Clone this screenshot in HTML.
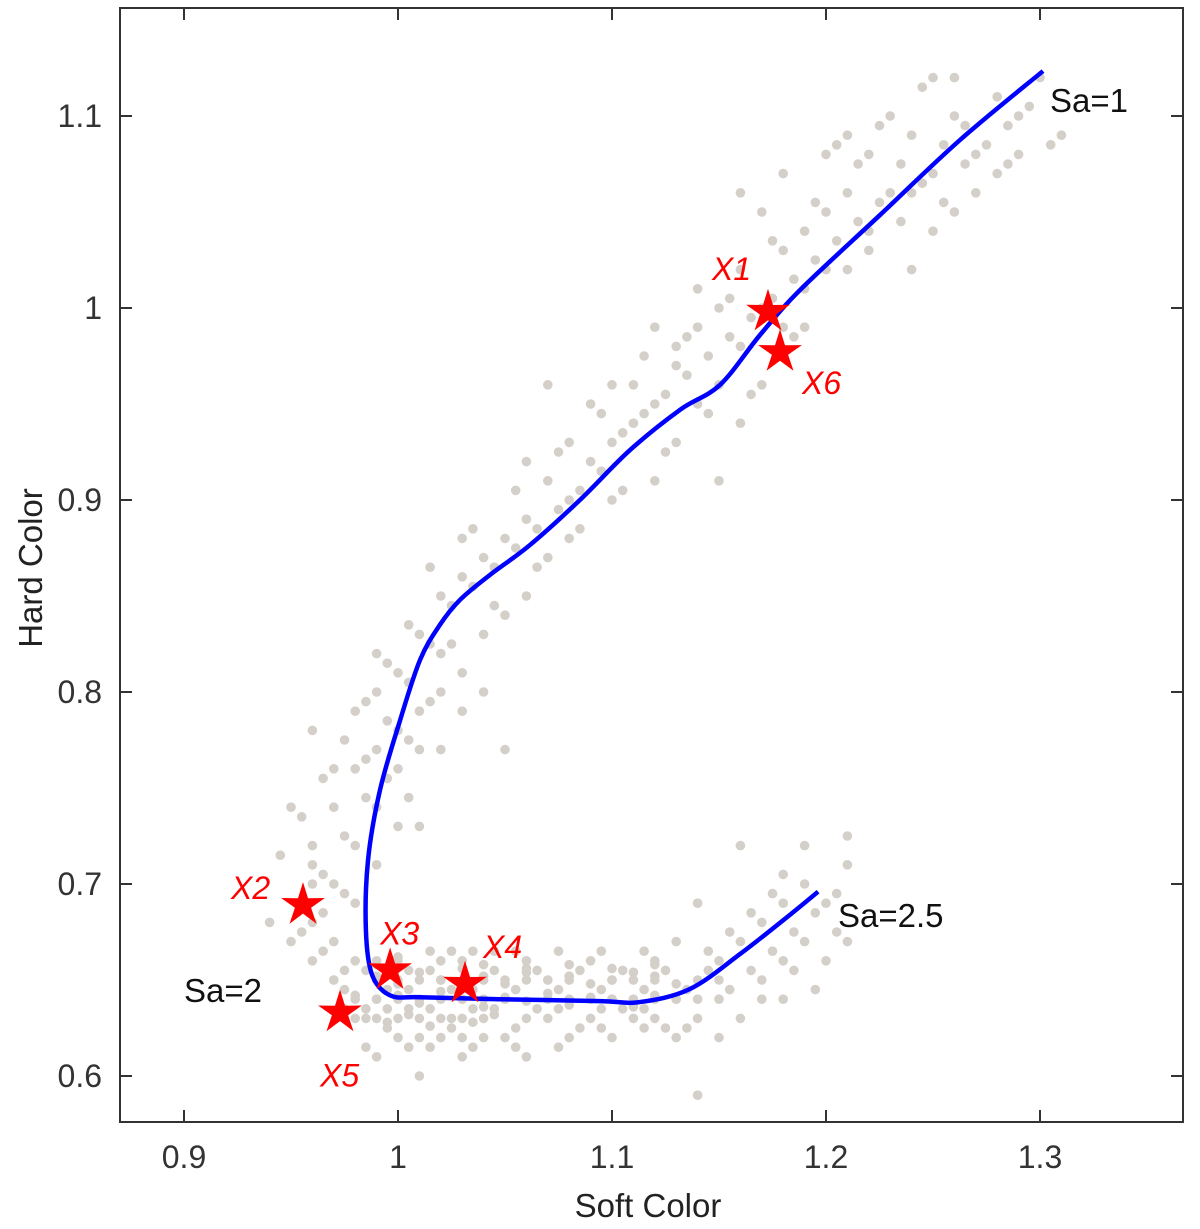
<!DOCTYPE html>
<html><head><meta charset="utf-8"><style>
html,body{margin:0;padding:0;background:#fff;}
svg{display:block;font-family:"Liberation Sans",Arial,sans-serif;}
</style></head><body>
<svg id="chart" width="1200" height="1229" viewBox="0 0 1200 1229">
<g id="points"></g>
<path id="curve" fill="none" stroke="#0000ff" stroke-width="4.5"/>
<g id="stars"></g>
<g id="axes"></g>
<text x="1050" y="112" font-size="33" fill="#111">Sa=1</text>
<text x="838" y="927" font-size="33" fill="#111">Sa=2.5</text>
<text x="184" y="1002" font-size="33" fill="#111">Sa=2</text>
<text x="648" y="1217" font-size="33" fill="#222" text-anchor="middle">Soft Color</text>
<text transform="translate(42,568) rotate(-90)" font-size="33" fill="#222" text-anchor="middle">Hard Color</text>
</svg>
<script>
const xTicks=[0.9,1.0,1.1,1.2,1.3];
const xTickLabels=["0.9","1","1.1","1.2","1.3"];
const yTicks=[0.6,0.7,0.8,0.9,1.0,1.1];
const yTickLabels=["0.6","0.7","0.8","0.9","1","1.1"];
const scatterX=[1.30,1.29,1.28,1.31,1.27,1.26,1.25,1.24,1.23,1.22,1.28,1.26,1.25,1.24,1.22,1.21,1.20,1.19,1.21,1.20,1.18,1.19,1.17,1.18,1.16,1.15,1.16,1.14,1.15,1.17,1.13,1.12,1.14,1.11,1.13,1.10,1.12,1.09,1.08,1.10,1.07,1.06,1.08,1.05,1.07,1.04,1.06,1.03,1.05,1.02,1.04,1.02,1.01,1.03,1.00,1.01,1.02,0.99,1.00,1.01,0.99,1.00,0.98,0.99,1.00,0.97,0.98,0.99,0.96,0.97,0.98,0.96,1.03,1.05,1.13,1.16,1.20,1.23,1.18,1.25,1.12,1.14,1.11,1.09,1.06,1.03,1.08,1.10,0.99,0.96,0.97,1.02,1.04,1.01,1.19,1.22,1.24,1.27,1.29,1.26,1.21,1.17,1.16,1.15,1.07,0.98,0.96,0.95,
0.96,0.97,0.98,0.99,1.00,1.01,0.98,0.99,1.00,1.01,1.02,1.03,1.04,1.05,1.06,1.07,1.08,1.09,1.10,1.11,1.12,1.13,1.14,1.15,1.16,1.17,1.18,1.19,1.20,1.21,1.17,1.15,1.18,1.16,1.14,1.13,1.12,1.19,1.20,1.21,1.18,1.02,1.03,1.00,0.99,1.01,1.04,1.05,1.06,1.08,1.10,1.11,1.13,1.09,1.07,1.04,0.97,0.96,0.95,0.94,0.99,1.00,1.01,1.02,1.03,1.05,1.06,1.08,1.10,1.12,1.14,1.15,1.16,1.17,1.14,0.98,0.995,1.005,1.015,1.025,1.035,1.045,1.055,1.065,1.075,1.085,1.095,1.105,1.115,1.125,0.985,0.975,1.19,1.21,1.18,
0.99,1.00,1.01,1.02,1.03,1.04,1.05,1.06,1.07,1.08,1.09,1.10,1.11,1.12,0.99,1.00,1.01,1.02,1.03,1.04,1.05,1.06,1.07,1.08,1.09,1.10,1.11,1.12,1.13,0.985,0.995,1.005,1.015,1.025,1.035,1.045,0.97,0.98,0.99,1.00,1.02,1.04,1.06,1.08,1.10,1.12];
const scatterY=[1.12,1.10,1.11,1.09,1.08,1.10,1.07,1.09,1.06,1.08,1.07,1.05,1.04,1.06,1.04,1.06,1.05,1.04,1.02,1.02,1.03,1.01,1.00,0.99,1.02,1.00,0.98,0.99,0.96,0.96,0.97,0.95,0.95,0.94,0.93,0.93,0.91,0.92,0.90,0.90,0.91,0.89,0.88,0.88,0.87,0.87,0.85,0.86,0.84,0.85,0.83,0.82,0.83,0.81,0.81,0.79,0.80,0.80,0.78,0.77,0.77,0.76,0.76,0.74,0.73,0.74,0.72,0.71,0.72,0.70,0.69,0.70,0.79,0.77,0.98,1.06,1.08,1.10,1.07,1.12,0.99,1.01,0.96,0.95,0.92,0.88,0.93,0.96,0.82,0.78,0.76,0.77,0.80,0.73,0.99,1.03,1.02,1.06,1.08,1.12,1.09,1.05,0.94,0.91,0.96,0.79,0.71,0.74,
0.68,0.67,0.66,0.65,0.64,0.63,0.64,0.63,0.66,0.65,0.64,0.66,0.65,0.64,0.63,0.65,0.64,0.63,0.64,0.65,0.63,0.64,0.65,0.66,0.67,0.68,0.69,0.70,0.69,0.71,0.65,0.64,0.66,0.72,0.69,0.67,0.66,0.67,0.66,0.67,0.64,0.62,0.61,0.62,0.61,0.60,0.62,0.62,0.61,0.62,0.62,0.63,0.62,0.66,0.63,0.64,0.65,0.66,0.67,0.68,0.66,0.65,0.64,0.65,0.63,0.65,0.66,0.65,0.65,0.64,0.63,0.62,0.63,0.64,0.59,0.63,0.645,0.635,0.655,0.645,0.635,0.655,0.645,0.635,0.645,0.655,0.645,0.635,0.645,0.655,0.655,0.645,0.72,0.725,0.705,
0.640,0.642,0.638,0.644,0.640,0.636,0.641,0.639,0.643,0.637,0.641,0.640,0.636,0.642,0.652,0.648,0.654,0.650,0.656,0.652,0.648,0.654,0.650,0.652,0.648,0.650,0.654,0.652,0.648,0.630,0.628,0.632,0.626,0.630,0.628,0.632,0.650,0.642,0.658,0.662,0.660,0.658,0.656,0.658,0.656,0.658];
const scatterX2=[1.295,1.285,1.275,1.265,1.255,1.245,1.235,1.225,1.215,1.205,1.195,1.185,1.175,1.165,1.155,1.145,1.135,1.125,1.115,1.105,1.095,1.085,1.075,1.065,1.055,1.045,1.035,1.025,1.015,1.005,0.995,0.985,0.985,0.975,0.965,1.255,1.235,1.215,1.195,1.175,1.155,1.135,1.115,1.095,1.075,1.055,1.035,1.015,1.005,0.995,0.985,0.975,0.965,0.955,0.945,1.205,1.225,1.245,1.265,1.285,1.305,1.185,1.165,1.145,1.125,1.105,1.085,1.065,1.045,1.025,1.015,1.005,1.005,0.995,0.975,0.965,
0.985,0.995,1.005,1.015,1.025,1.035,1.045,1.055,1.065,1.075,1.085,1.095,1.105,1.115,1.125,1.135,1.145,1.155,1.165,1.175,1.185,1.195,1.205,1.175,1.165,1.155,1.145,1.185,1.195,1.205,0.975,0.965,0.955,0.975,0.985,1.005,1.015,1.035,1.055,1.075,1.095,1.115,1.135,1.015,1.025,1.035,1.045,1.055,1.075,1.095,1.115,1.005,0.995,1.020,1.030,1.040,1.050,1.060,1.070,1.080,1.090,1.100,1.110,1.120,1.130,1.140,1.150,0.990,1.000,1.010,1.020,1.030,1.040];
const scatterY2=[1.105,1.095,1.085,1.075,1.085,1.065,1.075,1.055,1.045,1.035,1.025,1.015,1.005,0.995,0.985,0.975,0.965,0.955,0.945,0.935,0.915,0.905,0.895,0.885,0.875,0.865,0.855,0.845,0.825,0.805,0.785,0.765,0.745,0.725,0.705,1.055,1.045,1.075,1.055,1.035,1.005,0.985,0.975,0.945,0.925,0.905,0.885,0.865,0.835,0.815,0.795,0.775,0.755,0.735,0.715,1.085,1.095,1.115,1.095,1.075,1.085,0.985,0.955,0.945,0.925,0.905,0.885,0.865,0.845,0.825,0.795,0.775,0.745,0.755,0.695,0.685,
0.635,0.625,0.645,0.635,0.625,0.645,0.635,0.625,0.655,0.635,0.625,0.635,0.655,0.635,0.625,0.645,0.655,0.645,0.655,0.665,0.675,0.685,0.695,0.695,0.685,0.675,0.665,0.655,0.645,0.675,0.655,0.665,0.675,0.635,0.615,0.615,0.615,0.615,0.615,0.615,0.625,0.625,0.625,0.665,0.665,0.665,0.665,0.665,0.665,0.665,0.665,0.655,0.635,0.650,0.640,0.650,0.640,0.650,0.640,0.650,0.640,0.650,0.640,0.650,0.640,0.640,0.650,0.640,0.630,0.620,0.630,0.620,0.630];
const curveX=[1.3014,1.2626,1.2252,1.1879,1.1692,1.1505,1.1318,1.1084,1.085,1.0617,1.043,1.029,1.0196,1.0103,1.0009,0.9916,0.986,0.985,0.9879,0.9963,1.0103,1.0477,1.0944,1.113,1.1364,1.1598,1.1832,1.1963];
const curveY=[1.1234,1.0875,1.0484,1.0094,0.986,0.960,0.947,0.926,0.900,0.8766,0.861,0.848,0.835,0.8167,0.785,0.749,0.7125,0.676,0.6526,0.642,0.641,0.640,0.639,0.6385,0.6453,0.6635,0.684,0.696];
const starNames=["X1","X6","X2","X3","X4","X5"];
const starX=[1.1729,1.1785,0.9556,0.9963,1.0313,0.9729];
const starY=[0.998,0.977,0.689,0.655,0.648,0.633];

const NS="http://www.w3.org/2000/svg";
const L=120,R=1183,T=8,B=1122;
function sx(v){return 184+(v-0.9)*2140;}
function sy(v){return 116-(v-1.1)*1920;}
function mk(t,a,p){const e=document.createElementNS(NS,t);for(const k in a)e.setAttribute(k,a[k]);p.appendChild(e);return e;}

const pg=document.getElementById('points');
function drawPts(xs,ys){
  for(let i=0;i<xs.length;i++){
    const c=mk('circle',{cx:sx(xs[i]),cy:sy(ys[i]),r:4.8,fill:'#d4d0c9'},pg);
    
    
  }
}
drawPts(scatterX,scatterY);
drawPts(scatterX2,scatterY2);

const pts=curveX.map((x,i)=>[sx(x),sy(curveY[i])]);
let d='M'+pts[0][0]+','+pts[0][1];
for(let i=0;i<pts.length-1;i++){
  const p0=pts[Math.max(0,i-1)],p1=pts[i],p2=pts[i+1],p3=pts[Math.min(pts.length-1,i+2)];
  const c1=[p1[0]+(p2[0]-p0[0])/6,p1[1]+(p2[1]-p0[1])/6];
  const c2=[p2[0]-(p3[0]-p1[0])/6,p2[1]-(p3[1]-p1[1])/6];
  d+=' C'+c1+' '+c2+' '+p2;
}
document.getElementById('curve').setAttribute('d',d);

const sg=document.getElementById('stars');
const labelOff=[[-56,-32],[22,42],[-72,-6],[-10,-26],[18,-26],[-20,74]];
for(let i=0;i<starX.length;i++){
  const cx=sx(starX[i]),cy=sy(starY[i]);let s='';
  for(let k=0;k<10;k++){const r=k%2?8.5:23;const a=-Math.PI/2+k*Math.PI/5;s+=(cx+r*Math.cos(a)).toFixed(1)+','+(cy+r*Math.sin(a)).toFixed(1)+' ';}
  const st=mk('polygon',{points:s,fill:'#ff0000'},sg);
  
  
  const tx=mk('text',{x:cx+labelOff[i][0],y:cy+labelOff[i][1],'font-size':32,'font-style':'italic',fill:'#ff0000'},sg);
  tx.textContent=starNames[i];
  
  
}

const ag=document.getElementById('axes');
const box=mk('rect',{x:L,y:T,width:R-L,height:B-T,fill:'none',stroke:'#333',"stroke-width":2},ag);


xTicks.forEach((v,i)=>{
  const x=sx(v);
  mk('line',{x1:x,x2:x,y1:B,y2:B-12,stroke:'#333','stroke-width':2},ag);
  mk('line',{x1:x,x2:x,y1:T,y2:T+12,stroke:'#333','stroke-width':2},ag);
  const t=mk('text',{x:x,y:1168,'font-size':32,fill:'#333','text-anchor':'middle'},ag);
  t.textContent=xTickLabels[i];
  
  
});
yTicks.forEach((v,i)=>{
  const y=sy(v);
  mk('line',{x1:L,x2:L+12,y1:y,y2:y,stroke:'#333','stroke-width':2},ag);
  mk('line',{x1:R,x2:R-12,y1:y,y2:y,stroke:'#333','stroke-width':2},ag);
  const t=mk('text',{x:102,y:y+11,'font-size':32,fill:'#333','text-anchor':'end'},ag);
  t.textContent=yTickLabels[i];
  
  
});
</script>
</body></html>
